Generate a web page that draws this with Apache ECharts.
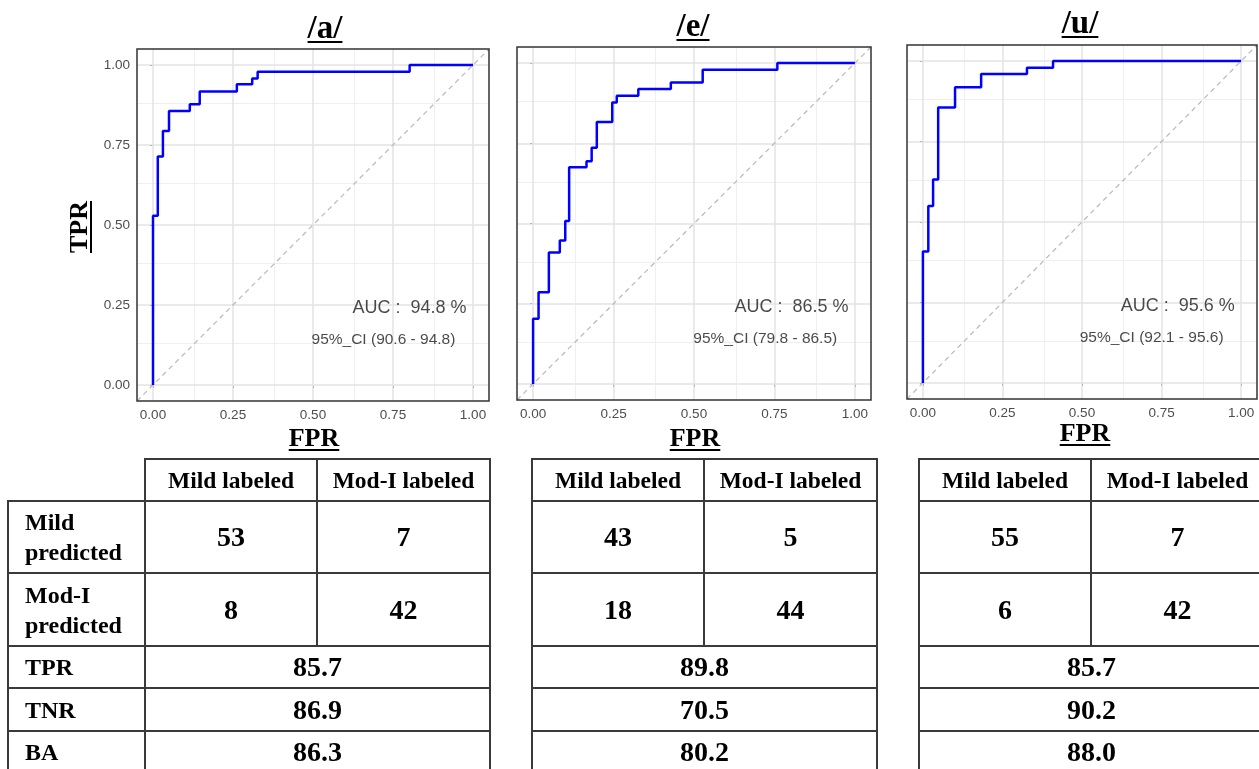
<!DOCTYPE html>
<html>
<head>
<meta charset="utf-8">
<script src="https://cdn.jsdelivr.net/npm/echarts@6/dist/echarts.min.js"></script>
<style>
  html, body { margin: 0; padding: 0; background: #fff; }
  #wrap { position: relative; width: 1259px; height: 769px; overflow: hidden; }
  #roc { position: absolute; left: 0; top: 0; width: 1259px; height: 769px; }
  .lbl {
    position: absolute; font-family: "Times New Roman", "Liberation Serif", serif;
    font-weight: bold; color: #000; white-space: nowrap; line-height: 1;
    text-decoration: underline; text-decoration-thickness: 2px; text-underline-offset: 3px;
    transform: translateX(-50%);
  }
  .title { font-size: 33px; }
  .axname { font-size: 26px; }
  table.cm {
    position: absolute; border-collapse: collapse; table-layout: fixed;
    font-family: "Times New Roman", "Liberation Serif", serif; font-weight: bold; color: #000;
  }
  table.cm td { border: 2px solid #3a3a3a; text-align: center; padding: 0; font-size: 28px; }
  table.cm td.head { font-size: 23.5px; }
  table.cm td.rh { text-align: left; padding-left: 16px; font-size: 24px; line-height: 30px; }
  table.cm td.blank { border: none; }
</style>
</head>
<body>
<div id="wrap">
  <div id="roc"></div>
</div>
<script>
// 三個母音
var panels = ['/a/', '/e/', '/u/'];

// ROC 階梯點 (FPR 處上升到 TPR)
var fprA = [0, 0.015, 0.031, 0.050, 0.115, 0.146, 0.262, 0.310, 0.327, 0.802, 1];
var tprA = [0.529, 0.714, 0.794, 0.856, 0.877, 0.917, 0.940, 0.958, 0.979, 1, 1];
var fprE = [0, 0.017, 0.049, 0.083, 0.100, 0.112, 0.166, 0.182, 0.198, 0.246, 0.260, 0.327, 0.428, 0.527, 0.759, 1];
var tprE = [0.203, 0.286, 0.410, 0.447, 0.508, 0.675, 0.694, 0.736, 0.816, 0.877, 0.898, 0.919, 0.939, 0.979, 1, 1];
var fprU = [0, 0.017, 0.032, 0.048, 0.101, 0.183, 0.327, 0.409, 1];
var tprU = [0.408, 0.550, 0.632, 0.856, 0.919, 0.960, 0.979, 1, 1];

var auc = ['94.8', '86.5', '95.6'];
var ciLow = ['90.6', '79.8', '92.1'];
var ciHigh = ['94.8', '86.5', '95.6'];

// 刻度
var majorTicks = [0, 0.25, 0.5, 0.75, 1];
var minorTicks = [0.125, 0.375, 0.625, 0.875];

// 混淆矩陣
var colHeads = ['Mild labeled', 'Mod-I labeled'];
var rowHeads = ['Mild<br>predicted', 'Mod-I<br>predicted', 'TPR', 'TNR', 'BA'];
var confA = [[53, 7], [8, 42]];
var confE = [[43, 5], [18, 44]];
var confU = [[55, 7], [6, 42]];
var tprVals = ['85.7', '89.8', '85.7'];
var tnrVals = ['86.9', '70.5', '90.2'];
var baVals = ['86.3', '80.2', '88.0'];

var curves = [[fprA, tprA], [fprE, tprE], [fprU, tprU]];
var confs = [confA, confE, confU];

// 版面
var grids = [
    { left: 137, top: 49, width: 352, height: 352 },
    { left: 517, top: 47, width: 354, height: 353 },
    { left: 907, top: 45, width: 350, height: 354 }
];
var titlePos = [[325, 11], [693, 9], [1080, 6]];
var fprPos = [[314, 425], [695, 425], [1085, 420]];
var tableLeft = [7, 531, 918];

function stepPath(xs, ys) {
    var pts = [[0, 0]];
    for (var i = 0; i < xs.length; i++) {
        if (i > 0) pts.push([xs[i], ys[i - 1]]);
        pts.push([xs[i], ys[i]]);
    }
    return pts;
}

var option = {
    animation: false,
    grid: [], xAxis: [], yAxis: [], series: []
};

grids.forEach(function (g, i) {
    option.grid.push({
        left: g.left, top: g.top, width: g.width, height: g.height,
        show: true, backgroundColor: 'transparent', borderColor: '#333', borderWidth: 1.5, z: 6
    });
    option.xAxis.push({
        type: 'value', gridIndex: i, min: -0.05, max: 1.05,
        axisLine: { show: false },
        splitLine: { show: false },
        axisTick: { show: true, customValues: majorTicks, length: 3, lineStyle: { color: '#333' } },
        axisLabel: {
            customValues: majorTicks, margin: 7, color: '#4d4d4d', fontSize: 13.5,
            fontFamily: 'Liberation Sans, Arial, sans-serif',
            formatter: function (v) { return v.toFixed(2); }
        }
    });
    option.yAxis.push({
        type: 'value', gridIndex: i, min: -0.05, max: 1.05,
        axisLine: { show: false },
        splitLine: { show: false },
        axisTick: { show: true, customValues: majorTicks, length: 3, lineStyle: { color: '#333' } },
        axisLabel: {
            show: i === 0, customValues: majorTicks, margin: 7, color: '#4d4d4d', fontSize: 13.5,
            fontFamily: 'Liberation Sans, Arial, sans-serif',
            formatter: function (v) { return v.toFixed(2); }
        }
    });

    var gridLines = [];
    minorTicks.forEach(function (v) {
        var st = { color: '#efefef', width: 1, type: 'solid' };
        gridLines.push({ xAxis: v, lineStyle: st });
        gridLines.push({ yAxis: v, lineStyle: st });
    });
    majorTicks.forEach(function (v) {
        var st = { color: '#e3e3e3', width: 1.5, type: 'solid' };
        gridLines.push({ xAxis: v, lineStyle: st });
        gridLines.push({ yAxis: v, lineStyle: st });
    });

    // 格線
    option.series.push({
        type: 'line', xAxisIndex: i, yAxisIndex: i, z: 1,
        data: [], symbol: 'none', silent: true,
        markLine: {
            silent: true, symbol: 'none', label: { show: false }, z: 1,
            data: gridLines
        }
    });
    // 對角參考線
    option.series.push({
        type: 'line', xAxisIndex: i, yAxisIndex: i, z: 2,
        data: [[-0.05, -0.05], [1.05, 1.05]],
        symbol: 'none', silent: true,
        lineStyle: { color: '#b8b8b8', width: 1.2, type: [5, 4] }
    });
    // ROC 曲線
    option.series.push({
        type: 'line', xAxisIndex: i, yAxisIndex: i, z: 3,
        data: stepPath(curves[i][0], curves[i][1]),
        symbol: 'none',
        lineStyle: { color: '#0000ff', width: 2.5 }
    });
    // AUC 文字
    option.series.push({
        type: 'scatter', xAxisIndex: i, yAxisIndex: i, z: 4,
        symbolSize: 0, silent: true,
        data: [[0.98, 0.24, 'AUC :  ' + auc[i] + ' %'], [0.945, 0.14, '95%_CI (' + ciLow[i] + ' - ' + ciHigh[i] + ')']],
        label: {
            show: true, position: 'left', distance: 0, color: '#1a1a1a',
            fontFamily: 'Liberation Sans, Arial, sans-serif',
            formatter: function (p) { return p.value[2]; }
        },
        labelLayout: function (p) {
            return p.dataIndex === 0 ? { fontSize: 18 } : { fontSize: 15.5 };
        }
    });
});

var chart = echarts.init(document.getElementById('roc'));
chart.setOption(option);

// 標題、軸名稱、表格
var wrap = document.getElementById('wrap');
function addLabel(text, cls, x, y, rotate) {
    var d = document.createElement('div');
    d.className = 'lbl ' + cls;
    d.textContent = text;
    d.style.left = x + 'px';
    d.style.top = y + 'px';
    if (rotate) d.style.transform = 'translate(-50%, -50%) rotate(-90deg)';
    wrap.appendChild(d);
}
panels.forEach(function (p, i) {
    addLabel(p, 'title', titlePos[i][0], titlePos[i][1]);
    addLabel('FPR', 'axname', fprPos[i][0], fprPos[i][1]);
});
addLabel('TPR', 'axname', 79, 227, true);

confs.forEach(function (c, i) {
    var withRowHead = i === 0;
    var t = document.createElement('table');
    t.className = 'cm';
    t.style.left = tableLeft[i] + 'px';
    t.style.top = '458px';
    t.style.width = (withRowHead ? 482 : 345) + 'px';
    var html = '<colgroup>' + (withRowHead ? '<col style="width:137px">' : '') +
        '<col style="width:172px"><col style="width:173px"></colgroup>';
    var hs = [42, 72, 73, 42, 43, 42];
    html += '<tr style="height:' + hs[0] + 'px">' + (withRowHead ? '<td class="blank"></td>' : '') +
        '<td class="head">' + colHeads[0] + '</td><td class="head">' + colHeads[1] + '</td></tr>';
    for (var r = 0; r < 2; r++) {
        html += '<tr style="height:' + hs[r + 1] + 'px">' + (withRowHead ? '<td class="rh">' + rowHeads[r] + '</td>' : '') +
            '<td>' + c[r][0] + '</td><td>' + c[r][1] + '</td></tr>';
    }
    var rates = [tprVals[i], tnrVals[i], baVals[i]];
    for (var k = 0; k < 3; k++) {
        html += '<tr style="height:' + hs[k + 3] + 'px">' + (withRowHead ? '<td class="rh">' + rowHeads[k + 2] + '</td>' : '') +
            '<td colspan="2">' + rates[k] + '</td></tr>';
    }
    t.innerHTML = html;
    wrap.appendChild(t);
});

window.addEventListener('resize', function () {
    chart.resize();
});
</script>
</body>
</html>
